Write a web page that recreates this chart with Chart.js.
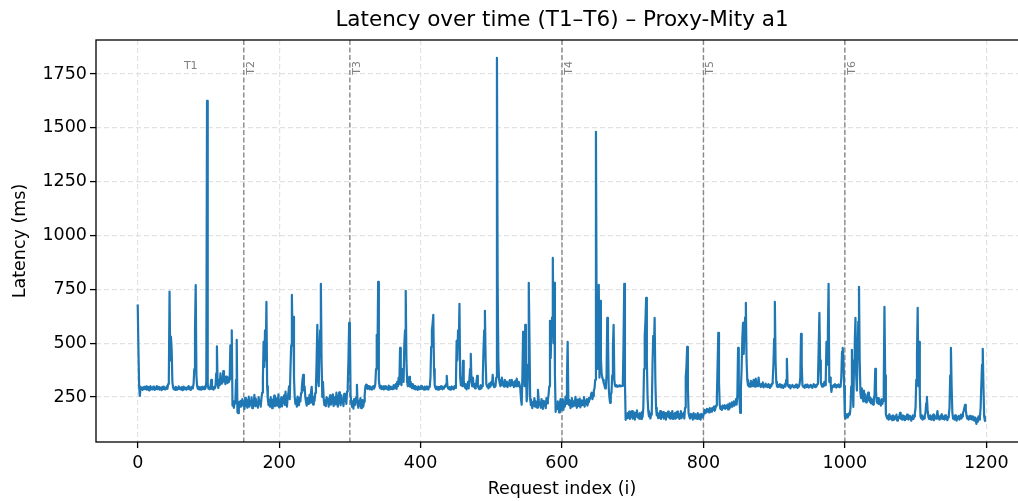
<!DOCTYPE html>
<html><head><meta charset="utf-8">
<script src="https://cdn.jsdelivr.net/npm/chart.js@4.4.1/dist/chart.umd.min.js"></script>
<style>
html,body{margin:0;padding:0;background:#fff;overflow:hidden;width:1018px;height:501px;}
#wrap{position:absolute;left:0;top:0;width:1040px;height:501px;}
</style></head><body>
<div id="wrap"><canvas id="c"></canvas></div>
<script>
const chartTitle = 'Latency over time (T1–T6) – Proxy-Mity a1';
const xTitle = 'Request index (i)';
const yTitle = 'Latency (ms)';
const phaseNames = ['T1','T2','T3','T4','T5','T6'];
const phaseStarts = [0,150,300,600,800,1000];
const xTicks = [0,200,400,600,800,1000,1200];
const yTicks = [250,500,750,1000,1250,1500,1750];

const t1 = [
680,470,300,255,292,288,295,283,290,297,
286,291,299,284,289,296,281,293,300,287,
292,285,298,290,283,294,288,301,286,292,
297,284,290,295,282,289,298,287,293,285,
291,299,288,310,330,740,420,530,470,320,
295,286,292,283,297,289,284,294,300,287,
291,285,296,282,290,298,286,293,288,284,
295,289,301,286,292,283,297,290,294,310,
380,560,770,350,300,288,293,285,296,290,
284,297,288,292,286,299,291,320,1625,310,
289,294,286,298,330,288,292,284,297,290,
300,360,485,310,292,330,305,360,312,340,
318,370,322,335,310,345,325,315,340,320,
330,490,335,560,210,230,200,225,220,330,
515,180,175,215,228,205,232,218,240,210];

const t2 = [
225,195,246,210,238,200,222,252,205,230,
215,248,198,235,220,260,208,242,214,226,
200,250,218,232,205,245,270,330,506,390,
560,420,692,300,240,212,236,205,250,222,
198,238,215,256,207,230,244,210,226,262,
202,235,218,248,206,240,222,258,213,275,
230,205,245,265,300,240,380,490,724,520,
622,340,250,218,238,205,252,226,212,246,
230,268,290,330,353,280,300,250,228,210,
245,218,235,260,224,270,297,240,215,250,
232,268,290,420,585,330,300,470,560,776,
420,250,320,240,212,236,208,250,225,242,
205,232,258,214,240,220,262,208,236,250,
216,270,228,205,245,272,230,212,258,224,
240,208,265,232,250,218,275,300,420,594];

const t3 = [
576,260,223,205,230,196,240,212,225,250,
307,215,200,232,210,245,198,223,236,205,
228,260,300,307,295,288,301,292,286,298,
290,284,296,300,289,295,310,380,539,420,
785,330,298,290,302,287,294,299,285,293,
300,288,296,290,284,303,292,287,298,291,
286,295,305,290,299,310,288,320,300,340,
310,478,330,305,380,350,320,492,560,743,
420,320,300,312,344,298,320,305,291,310,
296,288,302,285,297,290,283,299,292,286,
294,301,288,296,290,284,298,292,287,300,
293,285,297,300,340,483,560,590,632,380,
305,292,286,298,290,284,297,291,288,300,
292,286,295,289,301,298,310,348,300,290,
287,296,284,293,299,288,294,286,300,292,
310,511,420,560,480,683,340,305,330,300,
418,330,300,292,310,285,296,320,290,330,
380,450,320,300,340,298,310,290,305,320,
348,300,292,286,298,305,290,300,340,470,
560,650,420,310,298,303,290,312,296,300,
320,308,353,305,296,310,300,340,1825,780,
420,330,312,300,325,340,305,318,298,330,
310,302,322,296,315,305,328,300,312,330,
305,318,296,310,325,300,335,312,300,320,
308,290,240,214,350,553,420,300,585,400,
230,260,400,780,520,240,212,230,198,225,
210,245,205,230,218,200,283,236,212,225,
200,240,215,195,232,210,228,198,245,220,
235,260,300,604,430,560,620,896,500,780,
350,181,210,195,230,205,178,222,240,190];

const t4 = [
215,240,190,228,205,252,218,330,506,240,
212,235,198,226,245,205,230,210,222,251,
215,200,238,209,226,243,202,220,235,212,
228,250,205,232,218,240,210,226,245,236,
250,262,270,240,255,280,290,330,1482,600,
380,520,771,340,697,430,360,340,330,315,
305,290,300,350,618,540,300,250,223,260,
270,350,480,585,330,302,300,305,298,302,
300,304,299,302,300,301,305,500,776,320,
144,168,152,175,160,182,148,170,158,185,
150,165,178,145,172,160,188,155,168,150,
175,162,148,180,158,200,380,534,600,711,
420,250,185,160,175,150,168,190,400,534,
470,618,330,200,165,178,152,170,160,185,
148,172,158,180,150,166,175,145,170,162,
182,155,168,150,175,160,185,148,170,158,
176,150,165,182,155,172,148,168,185,152,
170,160,178,150,200,344,390,483,300,175,
160,150,172,155,168,145,175,160,150,170,
158,148,175,162,150,168,145,172,160,155];

const t5 = [
165,180,190,175,185,195,182,192,178,198,
188,196,182,200,190,205,186,198,210,250,
390,548,320,215,195,205,190,210,198,205,
212,195,208,200,215,192,210,220,200,212,
225,205,218,230,210,228,240,215,260,478,
300,240,176,290,380,520,594,450,560,620,
687,420,330,305,300,312,298,325,305,320,
300,330,310,298,335,305,318,300,340,310,
302,296,310,300,318,295,305,300,312,298,
305,296,310,300,292,306,300,312,330,400,
520,692,420,320,300,296,305,298,310,300,
294,306,300,292,303,310,298,330,427,310,
300,296,305,290,302,298,306,300,294,302,
296,308,300,292,304,298,310,340,543,400,
305,298,300,292,306,300,296,308,300,294,
303,298,306,300,292,304,310,300,296,305,
300,310,330,480,641,420,320,305,298,310,
300,320,305,330,506,400,560,776,320,340,
310,274,300,296,305,298,310,300,294,305,
300,308,296,302,298,340,460,478,420,300];

const t6 = [
158,150,165,170,155,162,175,168,200,300,
469,300,204,420,500,618,350,280,450,600,
762,420,270,245,290,255,230,280,240,262,
225,250,235,270,255,228,248,220,240,232,
215,238,260,381,280,230,222,245,218,236,
225,210,240,218,232,300,669,350,170,158,
150,162,145,170,155,148,160,142,165,152,
145,160,150,168,140,155,150,162,176,150,
158,145,165,150,160,142,155,148,168,152,
145,162,150,158,140,155,165,148,160,175,
200,330,450,664,300,506,260,160,150,165,
145,158,150,165,175,220,251,190,160,148,
155,165,145,158,150,168,142,155,160,150,
165,185,150,158,145,162,150,170,155,148,
160,145,165,150,158,142,155,168,200,350,
478,300,180,150,160,145,165,152,140,158,
150,162,145,155,168,150,160,175,185,200,
214,190,165,150,160,145,155,162,148,158,
145,160,150,140,155,148,125,150,135,160,
145,155,200,307,400,474,300,160,140,135];

const latency = [].concat(t1,t2,t3,t4,t5,t6);
const FONT = '"DejaVu Sans", "Liberation Sans", sans-serif';

const overlay = {
  id: 'overlay',
  beforeDatasetsDraw(chart) {
    const {ctx, chartArea: a, scales: {x}} = chart;
    ctx.save();
    ctx.strokeStyle = '#888';
    ctx.lineWidth = 1.4;
    ctx.setLineDash([5, 2.5]);
    phaseStarts.slice(1).forEach(v => {
      const px = x.getPixelForValue(v);
      ctx.beginPath(); ctx.moveTo(px, a.top); ctx.lineTo(px, a.bottom); ctx.stroke();
    });
    ctx.restore();
  },
  afterDatasetsDraw(chart) {
    const {ctx, chartArea: a, scales: {x, y}} = chart;
    ctx.save();
    ctx.fillStyle = '#808080';
    ctx.font = '11px ' + FONT;
    const ly = y.getPixelForValue(1810);
    phaseNames.forEach((name, i) => {
      if (i === 0) {
        const mid = (phaseStarts[0] + phaseStarts[1]) / 2;
        ctx.textAlign = 'center'; ctx.textBaseline = 'top';
        ctx.fillText(name, x.getPixelForValue(mid), ly);
      } else {
        const px = x.getPixelForValue(phaseStarts[i]);
        ctx.save();
        ctx.translate(px + 10, ly);
        ctx.rotate(-Math.PI / 2);
        ctx.textAlign = 'right'; ctx.textBaseline = 'alphabetic';
        ctx.fillText(name, 0, 0);
        ctx.restore();
      }
    });
    ctx.strokeStyle = '#000';
    ctx.lineWidth = 1.3;
    ctx.setLineDash([]);
    ctx.strokeRect(a.left, a.top, a.right - a.left, a.bottom - a.top);
    ctx.fillStyle = '#000';
    ctx.font = '21.5px ' + FONT;
    ctx.textAlign = 'center'; ctx.textBaseline = 'middle';
    ctx.fillText(chartTitle, (a.left + a.right) / 2, 20);
    ctx.restore();
  }
};

new Chart(document.getElementById('c'), {
  type: 'line',
  data: {
    datasets: [{
      data: latency.map((v, i) => ({x: i, y: v})),
      borderColor: '#1f77b4',
      borderWidth: 2.2,
      borderJoinStyle: 'round',
      borderCapStyle: 'butt',
      pointRadius: 0,
      tension: 0,
      fill: false
    }]
  },
  options: {
    responsive: true,
    maintainAspectRatio: false,
    animation: false,
    events: [],
    layout: {padding: {top: 40, right: 12, left: 0, bottom: 0}},
    plugins: {legend: {display: false}, tooltip: {enabled: false}, title: {display: false}},
    scales: {
      x: {
        type: 'linear', min: -59, max: 1259,
        afterBuildTicks: s => { s.ticks = xTicks.map(v => ({value: v})); },
        afterFit: s => { s.height = 59; },
        ticks: {autoSkip: false, maxRotation: 0, padding: 5, color: '#000',
                font: {family: FONT, size: 17.5}, callback: v => String(v)},
        grid: {color: '#e2e2e2', lineWidth: 1.2, tickColor: '#000', tickLength: 6, tickWidth: 1.3, tickBorderDash: []},
        border: {display: false, dash: [5, 3]},
        title: {display: true, text: xTitle, color: '#000', font: {family: FONT, size: 17.5}, padding: {top: 0, bottom: 1}}
      },
      y: {
        type: 'linear', min: 41, max: 1908,
        afterBuildTicks: s => { s.ticks = yTicks.map(v => ({value: v})); },
        afterFit: s => { s.width = 96; },
        ticks: {padding: 3, color: '#000', font: {family: FONT, size: 17.5}, callback: v => String(v)},
        grid: {color: '#e2e2e2', lineWidth: 1.2, tickColor: '#000', tickLength: 6, tickWidth: 1.3, tickBorderDash: []},
        border: {display: false, dash: [5, 3]},
        title: {display: true, text: yTitle, color: '#000', font: {family: FONT, size: 17.5}, padding: {top: 9.5, bottom: 0}}
      }
    }
  },
  plugins: [overlay]
});
</script>
</body></html>
